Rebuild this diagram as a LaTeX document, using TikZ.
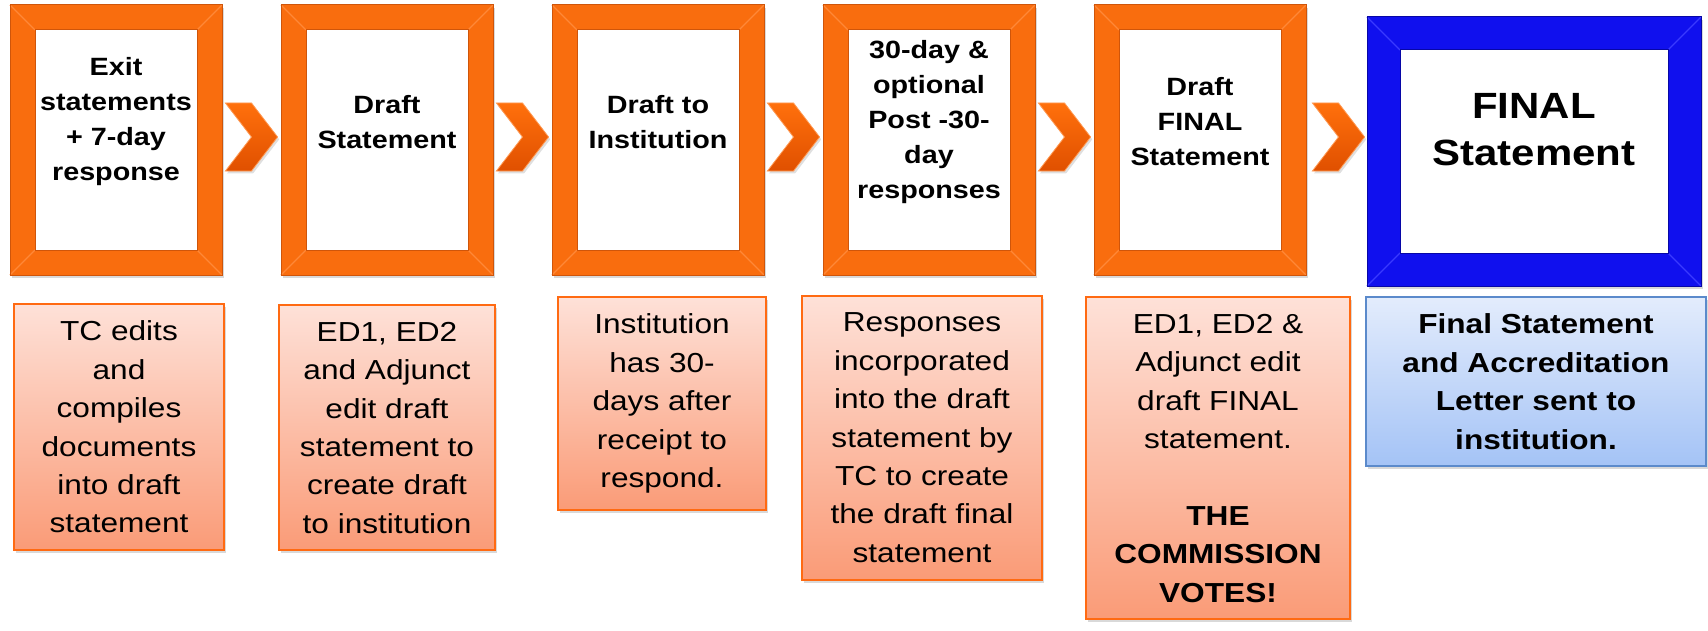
\documentclass[tikz,border=0pt]{standalone}
\usepackage{fontspec}
\setmainfont{Liberation Sans}[FakeStretch=1.15]
\usetikzlibrary{
  calc,
  positioning,
  shadows,
  shapes.symbols
}
\definecolor{frameorange}{HTML}{F96D0E}
\definecolor{frameedge}{HTML}{CF550A}
\definecolor{framelight}{HTML}{FF8838}
\definecolor{frameblue}{HTML}{1010EE}
\definecolor{blueedge}{HTML}{0707A6}
\definecolor{bluelight}{HTML}{3A3AFF}
\definecolor{chevtop}{HTML}{FF700C}
\definecolor{chevbottom}{HTML}{E05000}
\definecolor{noteorange}{HTML}{FF6A12}
\definecolor{notetop}{HTML}{FEE1D8}
\definecolor{notebottom}{HTML}{FA9B77}
\definecolor{noteblue}{HTML}{5B8ACB}
\definecolor{bluetop}{HTML}{E3ECFC}
\definecolor{bluebottom}{HTML}{A4C3F6}
\tikzset{
  stepframe/.style={
    draw=frameorange,
    line width=12.5pt,
    fill=white,
    minimum width=93.5pt,
    minimum height=122.5pt,
    inner sep=0pt,
    outer sep=0pt,
    drop shadow={draw=black!50, opacity=.3, shadow xshift=1pt, shadow yshift=-1.5pt}
  },
  finalframe/.style={
    stepframe,
    draw=frameblue,
    line width=16.5pt,
    minimum width=150.5pt,
    minimum height=118pt
  },
  frametext/.style={
    align=center,
    yshift=9pt,
    font=\fontsize{12.5pt}{17.5pt}\selectfont\bfseries
  },
  finaltext/.style={
    frametext,
    yshift=2pt,
    font=\fontsize{18.25pt}{23.5pt}\selectfont\bfseries
  },
  chevron/.style={
    signal,
    signal from=west,
    signal to=east,
    signal pointer angle=105,
    minimum width=24pt,
    minimum height=34pt,
    inner sep=0pt,
    yshift=1.5pt,
    draw=chevtop!70!white,
    line width=.4pt,
    top color=chevtop,
    bottom color=chevbottom,
    drop shadow={opacity=.25, shadow xshift=.8pt, shadow yshift=-1.2pt}
  },
  stepnote/.style={
    draw=noteorange,
    line width=1pt,
    top color=notetop,
    bottom color=notebottom,
    align=center,
    inner xsep=2pt,
    inner ysep=8.5pt,
    outer sep=0pt,
    font=\fontsize{13.75pt}{19.2pt}\selectfont,
    drop shadow={opacity=.3, shadow xshift=1pt, shadow yshift=-1.5pt}
  },
  finalnote/.style={
    stepnote,
    draw=noteblue,
    top color=bluetop,
    bottom color=bluebottom,
    font=\fontsize{13.75pt}{19.2pt}\selectfont\bfseries
  },
  bevel/.style={draw=framelight, line width=.6pt},
  rim/.style={draw=frameedge, line width=.5pt}
}

\begin{document}
\begin{tikzpicture}[node distance=42pt]
  \useasboundingbox (0,0) rectangle (854pt,-315.5pt);

  % the six steps
  \node[stepframe, label={[frametext]center:Exit\\statements\\+ 7-day\\response}]
    (f1) at (58pt,-70pt) {};
  \node[stepframe, right=of f1, label={[frametext]center:Draft\\Statement}] (f2) {};
  \node[stepframe, right=of f2, label={[frametext]center:Draft to\\Institution}] (f3) {};
  \node[stepframe, right=of f3,
    label={[frametext]center:30-day \&\\optional\\Post -30-\\day\\responses}] (f4) {};
  \node[stepframe, right=of f4,
    label={[frametext]center:Draft\\FINAL\\Statement}] (f5) {};
  \node[finalframe, right=45pt of f5, yshift=-5.75pt,
    label={[finaltext]center:FINAL\\Statement}] (f6) {};

  % bevelled corners
  \foreach \f in {f1,f2,f3,f4,f5} {
    \foreach \c/\sx/\sy in {north west/-1/1, north east/1/1, south east/1/-1, south west/-1/-1}
      \draw[bevel] ([shift={(\sx*6.25pt,\sy*6.25pt)}]\f.\c) -- ([shift={(\sx*-6.25pt,\sy*-6.25pt)}]\f.\c);
    \draw[rim] ([shift={(6.25pt,-6.25pt)}]\f.north west) rectangle ([shift={(-6.25pt,6.25pt)}]\f.south east);
    \draw[rim] ([shift={(-6.25pt,6.25pt)}]\f.north west) rectangle ([shift={(6.25pt,-6.25pt)}]\f.south east);
  }
  \foreach \c/\sx/\sy in {north west/-1/1, north east/1/1, south east/1/-1, south west/-1/-1}
    \draw[bluelight, line width=.6pt] ([shift={(\sx*8.25pt,\sy*8.25pt)}]f6.\c) -- ([shift={(\sx*-8.25pt,\sy*-8.25pt)}]f6.\c);
  \draw[blueedge, line width=.5pt] ([shift={(8.25pt,-8.25pt)}]f6.north west) rectangle ([shift={(-8.25pt,8.25pt)}]f6.south east);
  \draw[blueedge, line width=.5pt] ([shift={(-8.25pt,8.25pt)}]f6.north west) rectangle ([shift={(8.25pt,-8.25pt)}]f6.south east);

  % chevrons between the steps
  \foreach \a/\b/\n in {f1/f2/c1, f2/f3/c2, f3/f4/c3, f4/f5/c4}
    \node[chevron] (\n) at ($(\a.east)!.5!(\b.west)$) {};
  \node[chevron] (c5) at ($(f5.east)!.5!(f6.west |- f5.east)$) {};

  % what happens at each step
  \node[stepnote, minimum width=105pt, below=20.75pt of f1, xshift=1.5pt] (n1)
    {TC edits\\and\\compiles\\documents\\into draft\\statement};
  \node[stepnote, minimum width=108pt, below=21.25pt of f2] (n2)
    {ED1, ED2\\and Adjunct\\edit draft\\statement to\\create draft\\to institution};
  \node[stepnote, minimum width=104pt, below=17.25pt of f3, xshift=2pt] (n3)
    {Institution\\has 30-\\days after\\receipt to\\respond.};
  \node[stepnote, minimum width=120pt, below=16.75pt of f4, xshift=-3.5pt] (n4)
    {Responses\\incorporated\\into the draft\\statement by\\TC to create\\the draft final\\statement};
  \node[stepnote, minimum width=132pt, below=17.25pt of f5, xshift=9pt] (n5)
    {ED1, ED2 \&\\Adjunct edit\\draft FINAL\\statement.\\[19.2pt]
     \textbf{THE}\\\textbf{COMMISSION}\\\textbf{VOTES!}};
  \node[finalnote, minimum width=170pt, below=13.75pt of f6, xshift=1pt] (n6)
    {Final Statement\\and Accreditation\\Letter sent to\\institution.};
\end{tikzpicture}
\end{document}
